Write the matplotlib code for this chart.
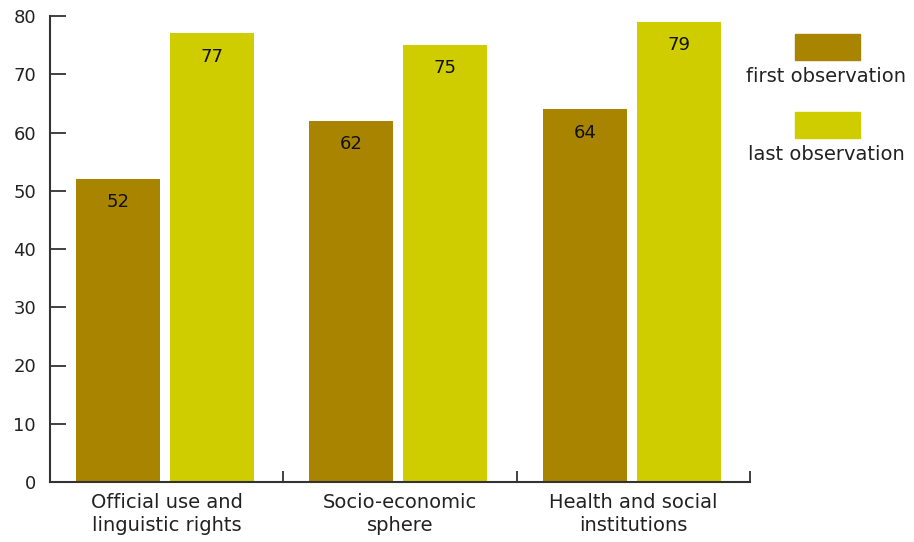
import matplotlib
matplotlib.use("Agg")
import matplotlib.pyplot as plt
from matplotlib.patches import Rectangle
import numpy as np

plt.rcParams["font.family"] = ["DejaVu Sans"]

categories = ["Official use and\nlinguistic rights", "Socio-economic\nsphere", "Health and social\ninstitutions"]
series_names = ["first observation", "last observation"]
first_obs = [52, 62, 64]
last_obs = [77, 75, 79]
colors = ["#A98400", "#CFCC00"]

W, H = 914, 542
fig = plt.figure(figsize=(W / 100, H / 100), dpi=100)
ax = fig.add_axes([50 / W, (H - 482) / H, 700 / W, (482 - 16) / H])

x = np.arange(len(categories))
bw = 0.36
offsets = [-0.208, 0.195]
for vals, off, col in zip([first_obs, last_obs], offsets, colors):
    bars = ax.bar(x + off, vals, width=bw, color=col, zorder=2)
    for b, v in zip(bars, vals):
        ax.text(b.get_x() + b.get_width() / 2, v - 4.0, f"{v}", ha="center", va="center",
                fontsize=13, color="#111111", zorder=3)

ax.set_xlim(-0.5, 2.5)
ax.set_ylim(0, 80)
ax.set_yticks(np.arange(0, 81, 10))
ax.set_xticks([0.5, 1.5, 2.5])
ax.set_xticklabels([])
ax.set_xticks(x, minor=True)
ax.set_xticklabels(categories, minor=True, fontsize=14, color="#222222", linespacing=1.25)
ax.tick_params(axis="x", which="minor", length=0, pad=8)
ax.tick_params(axis="x", which="major", direction="in", length=8, width=1.3, color="#333333")
ax.tick_params(axis="y", direction="in", length=11.5, width=1.3, color="#333333",
               labelsize=13, labelcolor="#222222", pad=10)
for s in ["top", "right"]:
    ax.spines[s].set_visible(False)
for s in ["left", "bottom"]:
    ax.spines[s].set_linewidth(1.5)
    ax.spines[s].set_color("#333333")

# legend
leg_y = [34, 112]
for name, col, y in zip(series_names, colors, leg_y):
    fig.add_artist(Rectangle((795 / W, 1 - (y + 26) / H), 65 / W, 26 / H,
                             transform=fig.transFigure, color=col))
    fig.text(826 / W, 1 - (y + 43) / H, name, ha="center", va="center",
             fontsize=14, color="#222222")

fig.savefig("out.png", dpi=100)
